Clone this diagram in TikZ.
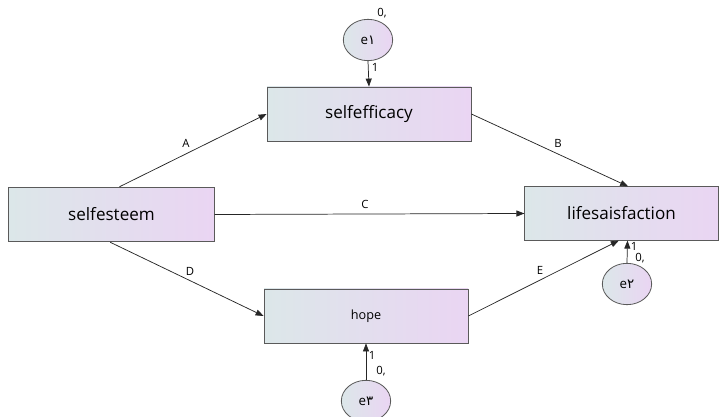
\documentclass[tikz,border=0pt]{standalone}
\usepackage{fontspec}
\setmainfont{Open Sans}
\newfontfamily\arabicfont[Script=Arabic]{DejaVu Sans}
\usepackage{tikz}
\usetikzlibrary{arrows.meta}
\usetikzlibrary{shapes.geometric}

\definecolor{fillL}{RGB}{220,231,233}
\definecolor{fillR}{RGB}{234,213,243}
\definecolor{edgegray}{RGB}{90,90,90}

\tikzset{
    var/.style={draw=edgegray, line width=0.6pt, left color=fillL, right color=fillR, inner sep=0pt},
    err/.style={ellipse, draw=edgegray, line width=0.6pt, left color=fillL, right color=fillR,
        minimum width=37pt, minimum height=31pt, inner sep=0pt, font=\fontsize{10}{12}\selectfont},
    arr/.style={draw=black!85, line width=0.55pt, -{Triangle[length=6pt,width=4.5pt]}},
    lab/.style={font=\fontsize{8.5}{10}\selectfont, inner sep=0pt},
}

\begin{document}
\begin{tikzpicture}[x=0.75pt, y=-0.75pt]
    \useasboundingbox (0,0) rectangle (719,417);

    % observed variables
    \node[var, minimum width=154pt, minimum height=41pt, font=\fontsize{12.8}{14}\selectfont] (esteem) at (111.5,214.5) {selfesteem};
    \node[var, minimum width=153pt, minimum height=40.5pt, font=\fontsize{12.8}{14}\selectfont] (efficacy) at (369,114) {selfefficacy};
    \node[var, minimum width=145pt, minimum height=40pt, font=\fontsize{12.8}{14}\selectfont] (life) at (621.5,213.5) {lifesaisfaction};
    \node[var, minimum width=153pt, minimum height=40.5pt, font=\fontsize{9.5}{11}\selectfont] (hope) at (366,316) {hope};

    % error terms
    \node[err] (e1) at (368,40) {e{\arabicfont ۱}};
    \node[err] (e2) at (627,284) {e{\arabicfont ۲}};
    \node[err] (e3) at (366,401) {e{\arabicfont ۳}};

    % paths
    \draw[arr] ([xshift=6pt]esteem.north) -- (efficacy.west);
    \draw[arr] (esteem.east) -- (life.west);
    \draw[arr] ([xshift=-1pt]esteem.south) -- (hope.west);
    \draw[arr] (efficacy.east) -- ([xshift=5pt]life.north);
    \draw[arr] (hope.east) -- ([xshift=-2pt]life.south);
    \draw[arr] (e1.south) -- (efficacy.north);
    \draw[arr] (e2.north) -- ([xshift=4.5pt]life.south);
    \draw[arr] (e3.north) -- (hope.south);

    % labels
    \node[lab] (lA) at (186,143) {A};
    \node[lab] (lB) at (558,143) {B};
    \node[lab] (lC) at (365,204) {C};
    \node[lab] (lD) at (190,271) {D};
    \node[lab] (lE) at (540,270) {E};

    \node[lab] (v1) at (382,13) {0,};
    \node[lab] (w1) at (375,67) {1};
    \node[lab] (w2) at (634,246) {1};
    \node[lab] (v2) at (640,258) {0,};
    \node[lab] (w3) at (372,355) {1};
    \node[lab] (v3) at (381,371) {0,};
\end{tikzpicture}
\end{document}
